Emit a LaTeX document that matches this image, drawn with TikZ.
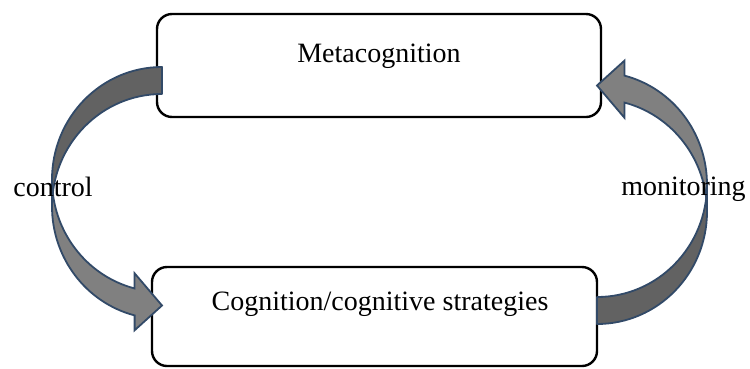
\documentclass[tikz,border=0pt]{standalone}
\usepackage{fontspec}
\setmainfont{Liberation Serif}
\definecolor{arrowline}{RGB}{50,74,104}
\definecolor{arrowdark}{RGB}{98,98,98}
\definecolor{arrowlight}{RGB}{128,128,128}
\tikzset{
  box/.style={draw=black, line width=2.4pt, rounded corners=15pt, fill=white, inner sep=0pt},
  lbl/.style={font=\fontsize{28}{34}\selectfont, inner sep=0pt, anchor=base},
  bandback/.style={fill=arrowdark, draw=arrowline, line width=1.8pt, line join=round},
  bandfront/.style={fill=arrowlight, draw=arrowline, line width=1.8pt, line join=miter},
  ell/.style={x radius=110, y radius=112.5}
}
\begin{document}
\begin{tikzpicture}[x=1pt,y=-1pt]
\useasboundingbox (0,0) rectangle (750,368);
\node[box, minimum width=444pt, minimum height=103pt] (meta) at (379,65.5) {};
\node[box, minimum width=445pt, minimum height=99pt] (cog) at (374.5,316.5) {};
% control arrow (left)
\path[bandback] (52,179.5) arc[ell, start angle=180, end angle=270]
  -- (162,94) arc[ell, start angle=270, end angle=180] -- cycle;
\path[bandfront] (52,179.5) arc[ell, start angle=180, end angle=104.43]
  -- (134.6,273.3) -- (162,305.5) -- (134.6,330.3) -- (134.6,315.4)
  arc[ell, start angle=104.43, end angle=180] -- cycle;
% monitoring arrow (right)
\path[bandback] (707,211.5) arc[ell, start angle=0, end angle=90]
  -- (597,297) arc[ell, start angle=90, end angle=0] -- cycle;
\path[bandfront] (707,211.5) arc[ell, start angle=0, end angle=-75.57]
  -- (624.4,117.7) -- (597,85.5) -- (624.4,60.7) -- (624.4,75.6)
  arc[ell, start angle=-75.57, end angle=0] -- cycle;
\node[lbl] (metatext) at (379,62) {Metacognition};
\node[lbl] (cogtext) at (380,310) {Cognition/cognitive strategies};
\node[lbl] (controltext) at (53,196.5) {control};
\node[lbl] (montext) at (683.5,195) {monitoring};
\end{tikzpicture}
\end{document}
